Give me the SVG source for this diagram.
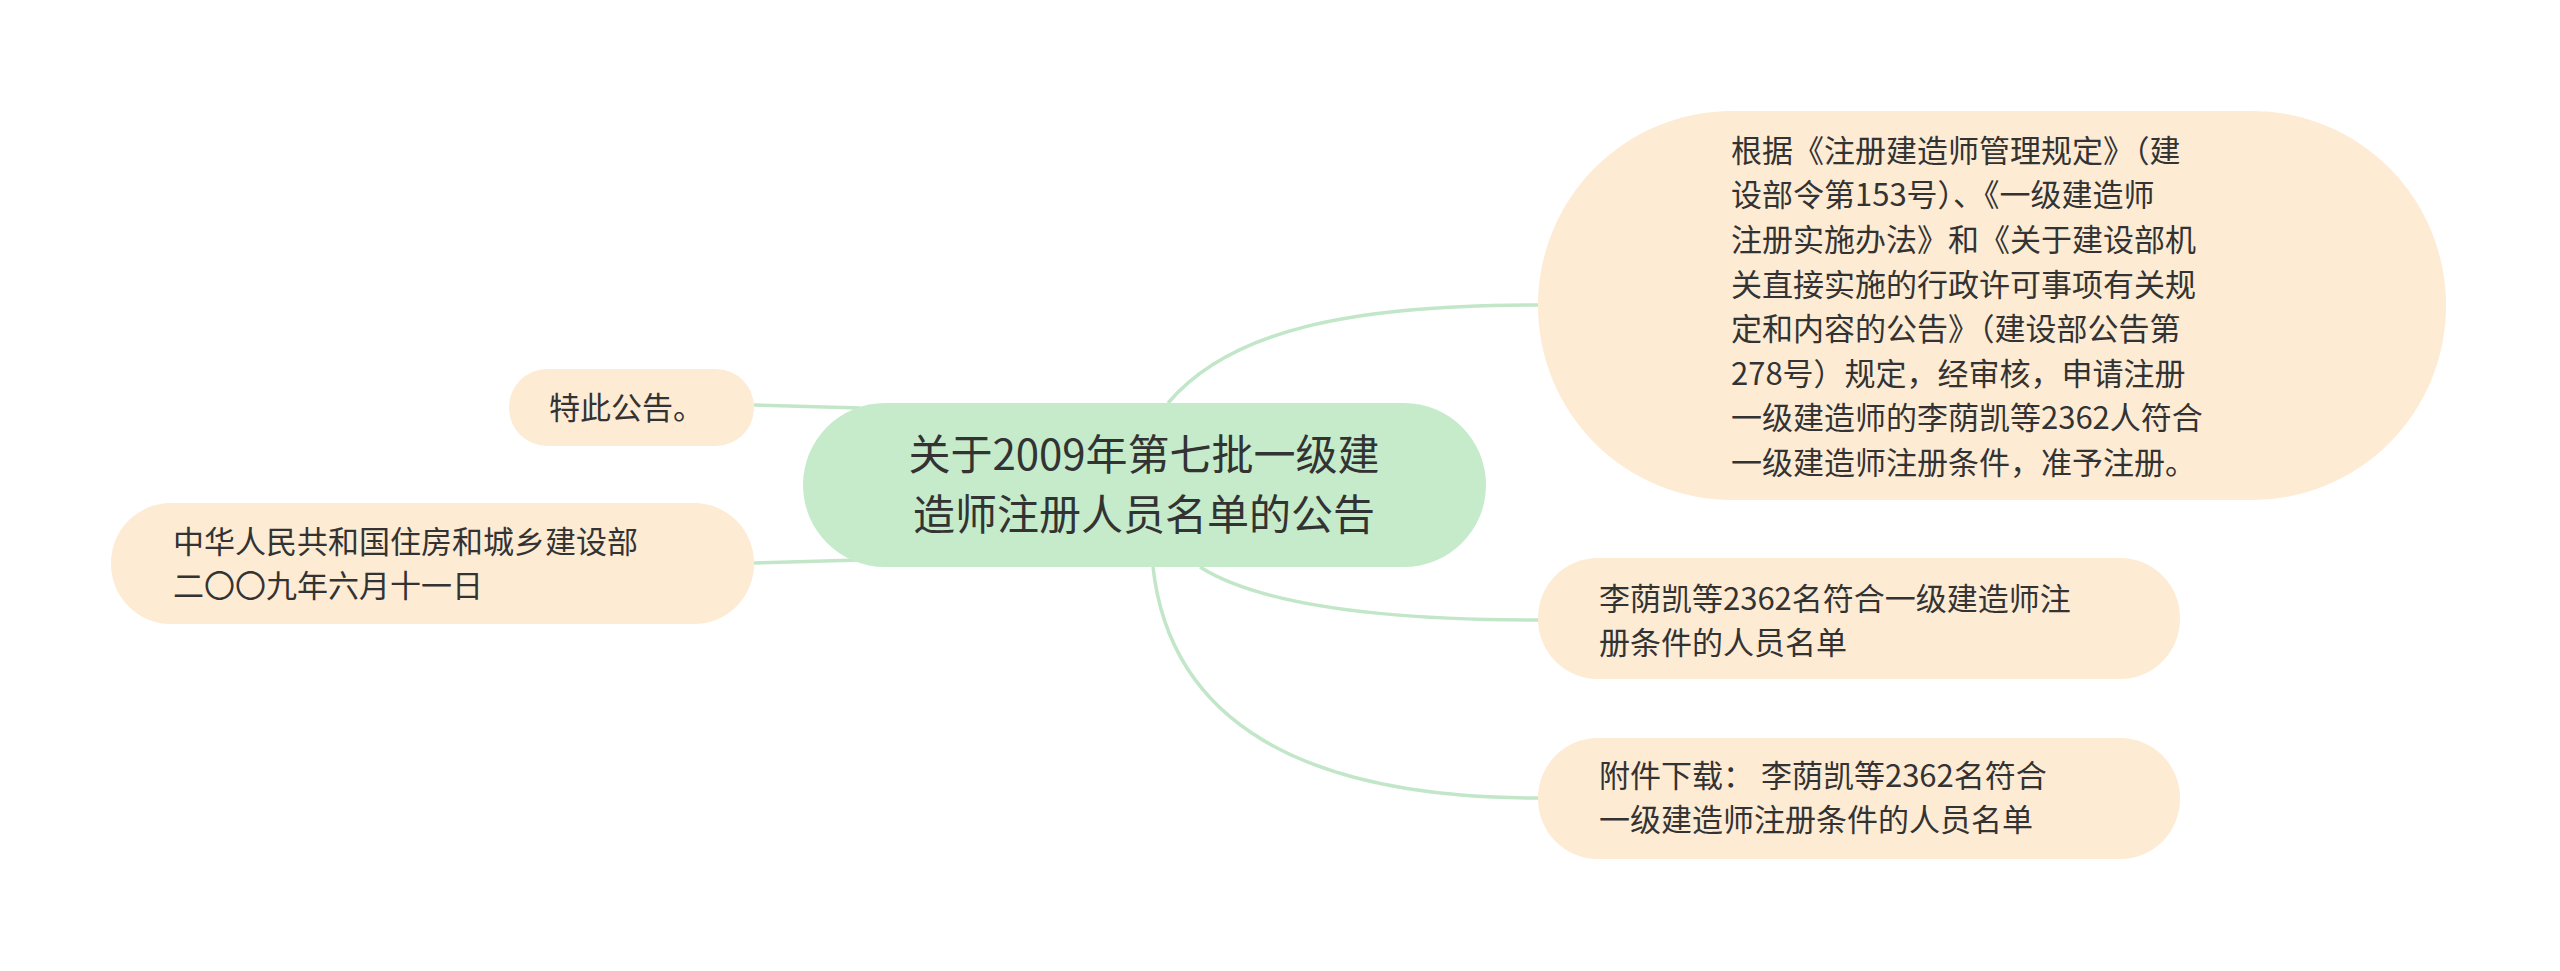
<svg xmlns="http://www.w3.org/2000/svg" width="2560" height="971" viewBox="0 0 2560 971">
<style>
.c{fill:none;stroke:#c2e6c8;stroke-width:3.5}
.n{fill:#fdebd4}
.t{font-family:"Noto Sans CJK SC","Noto Sans",sans-serif;font-size:31px;fill:#333}
.m{font-family:"Noto Sans CJK SC","Noto Sans",sans-serif;font-size:42px;fill:#333;text-anchor:middle}
</style>
<rect width="2560" height="971" fill="#fff"/>
<g id="connectors">
<path class="c" d="M1168,403 C1230,330 1350,305 1538,305"/>
<path class="c" d="M1200,567 C1260,605 1380,620 1538,620"/>
<path class="c" d="M1153,567 C1170,720 1300,798 1538,798"/>
<path class="c" d="M860,408 L754,405"/>
<path class="c" d="M860,560 L754,563"/>
</g>
<g id="center">
<rect x="803" y="403" width="683" height="164" rx="82" fill="#c5ebcb"/>
<text class="m" x="1144" y="470">关于2009年第七批一级建</text>
<text class="m" x="1144" y="530">造师注册人员名单的公告</text>
</g>
<g id="n1">
<rect class="n" x="1538" y="111" width="908" height="389" rx="194"/>
<text class="t" x="1731" y="162">根据《注册建造师管理规定》（建</text>
<text class="t" x="1731" y="206">设部令第153号）、《一级建造师</text>
<text class="t" x="1731" y="251">注册实施办法》和《关于建设部机</text>
<text class="t" x="1731" y="296">关直接实施的行政许可事项有关规</text>
<text class="t" x="1731" y="340">定和内容的公告》（建设部公告第</text>
<text class="t" x="1731" y="385">278号）规定，经审核，申请注册</text>
<text class="t" x="1731" y="429">一级建造师的李荫凯等2362人符合</text>
<text class="t" x="1731" y="474">一级建造师注册条件，准予注册。</text>
</g>
<g id="n2">
<rect class="n" x="1538" y="558" width="642" height="121" rx="60"/>
<text class="t" x="1599" y="610">李荫凯等2362名符合一级建造师注</text>
<text class="t" x="1599" y="654">册条件的人员名单</text>
</g>
<g id="n3">
<rect class="n" x="1538" y="738" width="642" height="121" rx="60"/>
<text class="t" x="1599" y="787">附件下载：  李荫凯等2362名符合</text>
<text class="t" x="1599" y="831">一级建造师注册条件的人员名单</text>
</g>
<g id="n4">
<rect class="n" x="509" y="369" width="245" height="77" rx="38"/>
<text class="t" x="549" y="419">特此公告。</text>
</g>
<g id="n5">
<rect class="n" x="111" y="503" width="643" height="121" rx="60"/>
<text class="t" x="173" y="553">中华人民共和国住房和城乡建设部</text>
<text class="t" x="173" y="597">二〇〇九年六月十一日</text>
</g>
</svg>
